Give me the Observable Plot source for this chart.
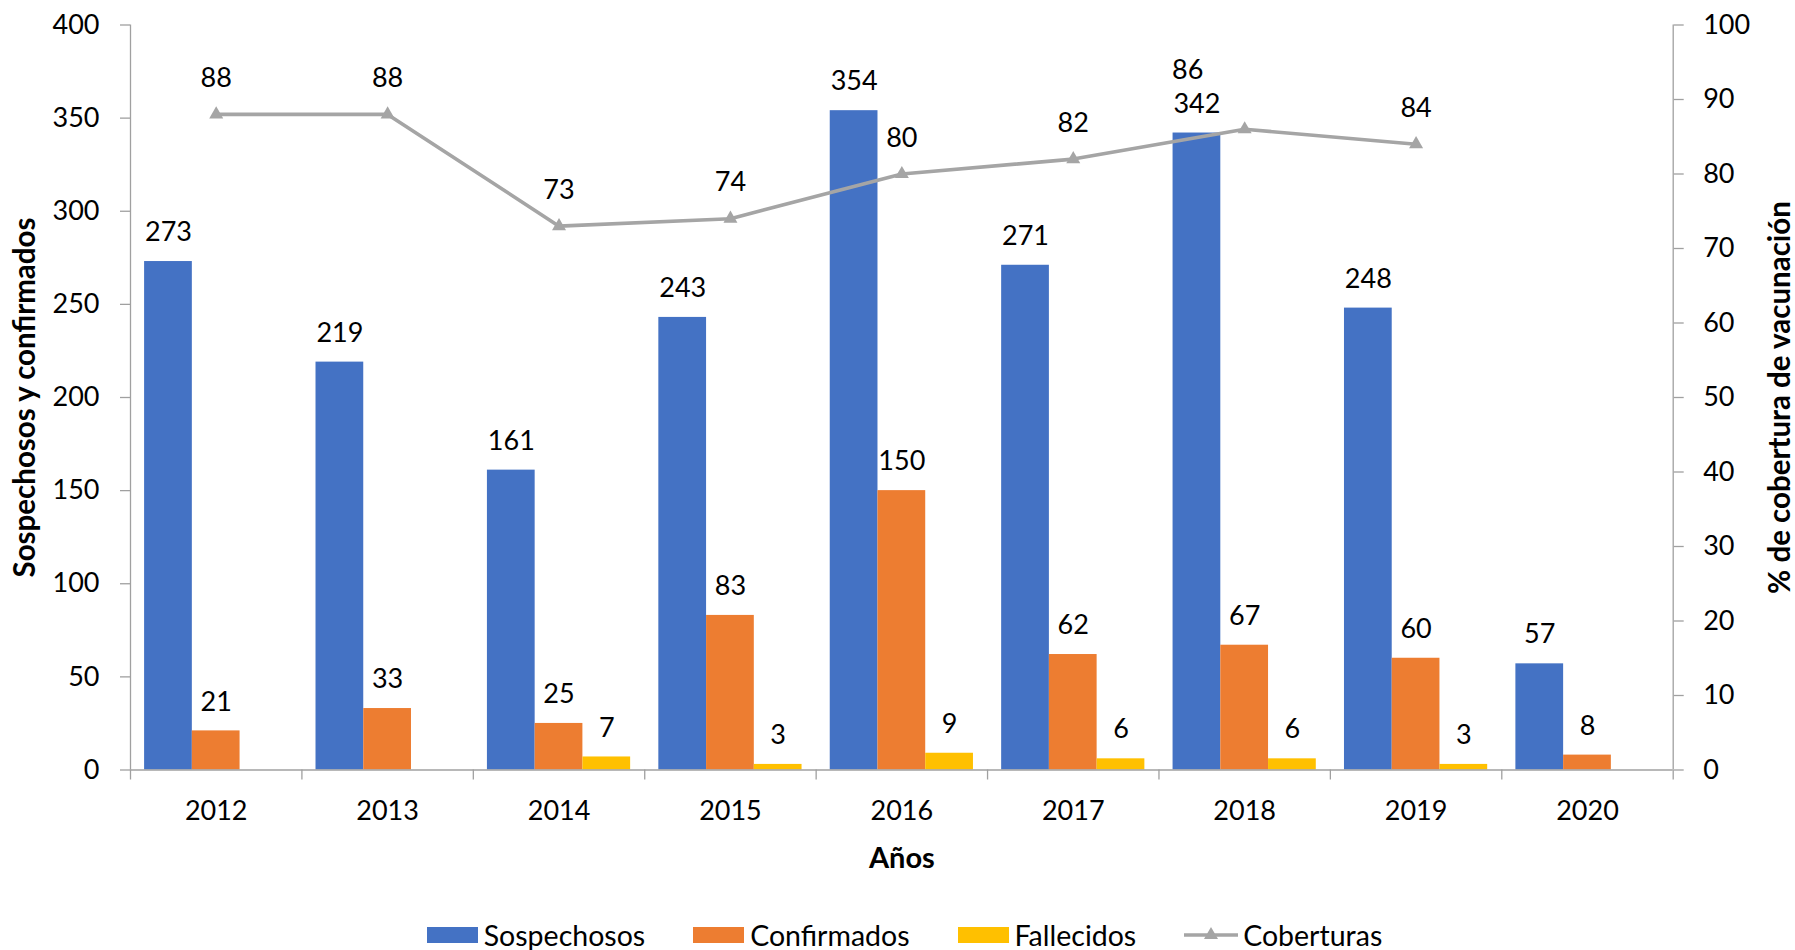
<!DOCTYPE html>
<html><head><meta charset="utf-8">
<script src="https://cdn.jsdelivr.net/npm/d3@7"></script>
<script src="https://cdn.jsdelivr.net/npm/@observablehq/plot@0.6"></script>
<style>
body{margin:0;background:#fff;font-family:Lato,"Liberation Sans",sans-serif;}
#legend{display:flex;justify-content:center;align-items:center;height:30px;padding-top:20px;padding-left:14px;font-size:28.5px;color:#000;}
.item{display:flex;align-items:center;margin:0 24px;}
.sw{width:51px;height:16px;margin-right:6px;}
</style></head><body>
<div id="chart"></div>
<div id="legend"></div>
<script>
const years = [2012, 2013, 2014, 2015, 2016, 2017, 2018, 2019, 2020];
const sospechosos = [273, 219, 161, 243, 354, 271, 342, 248, 57];
const confirmados = [21, 33, 25, 83, 150, 62, 67, 60, 8];
const fallecidos = [null, null, 7, 3, 9, 6, 6, 3, null];
const coberturas = [88, 88, 73, 74, 80, 82, 86, 84, null];
const seriesNames = ["Sospechosos", "Confirmados", "Fallecidos", "Coberturas"];
const colors = ["#4472C4", "#ED7D31", "#FFC000", "#A5A5A5"];
const leftTicks = [0, 50, 100, 150, 200, 250, 300, 350, 400];
const rightTicks = [0, 10, 20, 30, 40, 50, 60, 70, 80, 90, 100];

const barSeries = [sospechosos, confirmados, fallecidos];
const rows = [];
barSeries.forEach((vals, k) => years.forEach((yr, i) => {
  if (vals[i] != null) rows.push({year: yr, k, series: seriesNames[k], value: vals[i]});
}));
const cov = years.map((yr, i) => ({year: yr, cov: coberturas[i]})).filter(d => d.cov != null);

const G = 0.8355, B = G / 3;   // group and bar widths in category units
const scaleR = 4;              // right axis (0-100) -> left axis (0-400)
const axisGray = "#a0a0a0";
const bx1 = d => d.year - G / 2 + d.k * B;
const bx2 = d => d.year - G / 2 + (d.k + 1) * B;
const bxm = d => d.year - G / 2 + (d.k + 0.5) * B;
const bounds = d3.range(years[0] - 0.5, years[years.length - 1] + 1, 1);

const chart = Plot.plot({
  width: 1795,
  height: 900,
  marginLeft: 130,
  marginRight: 122.3,
  marginTop: 24.5,
  marginBottom: 130.5,
  style: {fontFamily: "Lato, 'Liberation Sans', sans-serif", fontSize: "27px", color: "#000", background: "#fff", overflow: "visible"},
  x: {domain: [years[0] - 0.5, years[years.length - 1] + 0.5]},
  y: {domain: [0, 400]},
  marks: [
    Plot.rectY(rows, {x1: bx1, x2: bx2, y: "value", fill: d => colors[d.k]}),
    Plot.ruleY([0], {stroke: axisGray, strokeWidth: 1.3}),
    Plot.ruleX([bounds[0], bounds[bounds.length - 1]], {stroke: axisGray, strokeWidth: 1.3}),
    Plot.axisX({ticks: bounds, tickSize: 10, tickFormat: () => "", stroke: axisGray, strokeWidth: 1.3, label: null}),
    Plot.axisX({ticks: years, tickSize: 0, tickPadding: 31, tickFormat: d => String(d), fill: "#000", label: null}),
    Plot.axisY({anchor: "left", ticks: leftTicks, tickSize: 10, tickPadding: 21, stroke: axisGray, strokeWidth: 1.3, fill: "#000", label: null}),
    Plot.axisY({anchor: "right", ticks: rightTicks.map(v => v * scaleR), tickFormat: d => String(d / scaleR), tickSize: 10, tickPadding: 20, stroke: axisGray, strokeWidth: 1.3, fill: "#000", label: null}),
    Plot.line(cov, {x: "year", y: d => d.cov * scaleR, stroke: colors[3], strokeWidth: 3.6}),
    Plot.dot(cov, {x: "year", y: d => d.cov * scaleR, symbol: "triangle", r: 5.2, fill: colors[3]}),
    Plot.text(rows, {x: bxm, y: "value", text: d => String(d.value), dy: -29, fill: "#000"}),
    Plot.text(cov.filter(d => d.year !== 2018), {x: "year", y: d => d.cov * scaleR, text: d => String(d.cov), dy: -36, fill: "#000"}),
    Plot.text(cov.filter(d => d.year === 2018), {x: "year", y: d => d.cov * scaleR, text: d => String(d.cov), dx: -57, dy: -59, fill: "#000"}),
    Plot.text(["Sospechosos y confirmados"], {frameAnchor: "left", textAnchor: "middle", lineAnchor: "middle", dx: -105, rotate: -90, fontWeight: "bold", fill: "#000", fontSize: 29.5}),
    Plot.text(["% de cobertura de vacunación"], {frameAnchor: "right", textAnchor: "middle", lineAnchor: "middle", dx: 107, rotate: -90, fontWeight: "bold", fill: "#000", fontSize: 29.5}),
    Plot.text(["Años"], {frameAnchor: "bottom", textAnchor: "middle", lineAnchor: "middle", dy: 89, fontWeight: "bold", fill: "#000", fontSize: 29})
  ]
});
document.getElementById("chart").appendChild(chart);

const legend = document.getElementById("legend");
seriesNames.forEach((name, k) => {
  const item = document.createElement("div");
  item.className = "item";
  if (k < 3) {
    const sw = document.createElement("div");
    sw.className = "sw";
    sw.style.background = colors[k];
    item.appendChild(sw);
  } else {
    const ns = "http://www.w3.org/2000/svg";
    const svg = document.createElementNS(ns, "svg");
    svg.setAttribute("width", 54); svg.setAttribute("height", 20);
    svg.style.marginRight = "5px";
    const ln = document.createElementNS(ns, "line");
    ln.setAttribute("x1", 0); ln.setAttribute("x2", 54); ln.setAttribute("y1", 10); ln.setAttribute("y2", 10);
    ln.setAttribute("stroke", colors[3]); ln.setAttribute("stroke-width", 3.6);
    const tri = document.createElementNS(ns, "path");
    tri.setAttribute("d", d3.symbol(d3.symbolTriangle, 85)());
    tri.setAttribute("transform", "translate(27,10)");
    tri.setAttribute("fill", colors[3]);
    svg.appendChild(ln); svg.appendChild(tri);
    item.appendChild(svg);
  }
  const t = document.createElement("span");
  t.textContent = name;
  item.appendChild(t);
  legend.appendChild(item);
});
</script>
</body></html>
